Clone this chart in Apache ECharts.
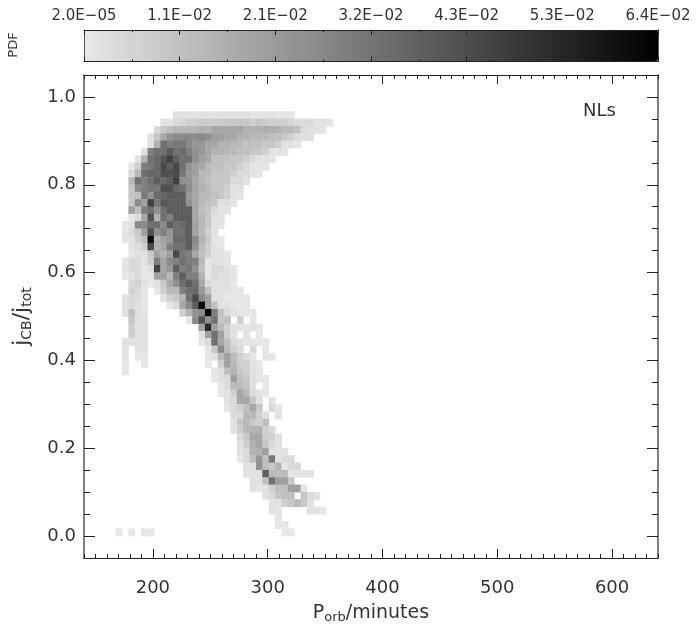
<!DOCTYPE html>
<html>
<head>
    <meta charset="utf-8">
    <title>PDF of jCB/jtot against Porb</title>
    <script src="https://cdn.jsdelivr.net/npm/echarts@6/dist/echarts.min.js"></script>
    <style>
        html, body { margin: 0; padding: 0; background: #fff; }
    </style>
</head>
<body>
    <div id="chart" style="width: 700px;height:629px;"></div>
    <script type="text/javascript">
        // histogram bins: 500 min over 90 columns, 1.1 over 66 rows
        var colCount = 90;
        var rowCount = 66;
        var topDataRow = 60;

        // colour bar
        var pdfMin = 0.00002;
        var pdfMax = 0.064;
        var barLabels = ['2.0E\u221205', '1.1E\u221202', '2.1E\u221202', '3.2E\u221202', '4.3E\u221202', '5.3E\u221202', '6.4E\u221202'];

        // axis ticks
        var xTicks = [200, 300, 400, 500, 600];
        var yTicks = [0, 0.2, 0.4, 0.6, 0.8, 1];

        // first column of each row, top row (0.95-0.967) down to bottom row (0-0.017)
        var rowFirstCol = [
            14, 12, 11, 10, 10, 9, 8, 7, 7, 7,
            7, 7, 7, 7, 7, 6, 6, 6, 7, 7,
            6, 6, 6, 7, 7, 6, 6, 6, 7, 7,
            7, 6, 6, 6, 6, 6, 20, 21, 21, 22,
            22, 23, 23, 23, 24, 24, 24, 24, 25, 25,
            26, 26, 28, 29, 29, 30, 30, 5
        ];
        // PDF in units of 1e-3 per cell, read row by row, 0 means empty
        var rowPdf = [
            [2,2,2,2,2,2,2,2,2,2,2,2,1,1,2,2,1,1,1],
            [2,2,4,5,7,7,8,8,8,8,9,9,9,9,7,9,8,7,7,7,5,4,4,4,2,2,1],
            [4,9,11,13,13,13,13,15,15,18,18,18,18,18,15,15,15,16,16,15,13,13,11,4,2,2,1],
            [2,9,18,24,26,26,26,26,26,24,20,20,18,18,15,15,13,13,13,11,11,9,7,4,2,2],
            [2,15,33,29,31,31,26,22,22,18,18,15,15,13,13,11,11,11,9,9,7,2,2,1],
            [2,29,33,33,38,33,35,29,24,22,18,15,15,13,13,11,11,9,9,7,2,2,1],
            [2,15,33,35,40,46,38,33,33,24,20,18,11,11,11,9,9,7,4,2,2,1],
            [0.5,7,29,31,35,44,38,44,33,24,20,18,13,11,11,9,9,7,4,1,1,1],
            [4,13,33,35,35,42,42,44,31,22,20,13,13,9,9,9,7,4,4,1,0.5],
            [13,33,29,33,38,35,38,46,24,24,18,13,11,9,9,9,4,4,2],
            [9,26,29,31,31,42,42,35,33,25,18,15,13,9,9,7,2,2],
            [9,11,31,24,35,35,38,38,38,22,18,13,13,11,9,7,2,1],
            [9,26,20,46,31,40,38,38,38,24,18,13,11,9,2,2,1],
            [20,11,29,33,24,33,38,38,38,38,18,11,9,4,1,1],
            [0.5,4,18,42,15,33,29,38,38,38,18,13,9,2,2],
            [0.5,2,26,26,33,33,26,38,33,35,38,20,13,9,2,1],
            [0.5,4,9,20,42,24,29,22,33,33,38,18,13,7,2],
            [0.5,2,7,11,60,15,20,22,35,35,38,26,15,9,1,0.5],
            [2,4,7,44,15,18,29,33,33,38,24,13,7,2,1],
            [0.5,2,2,9,20,15,20,44,31,29,18,11,7,2,2,0.5],
            [0.5,4,4,2,7,29,18,26,29,33,29,29,13,0.5,2,2,0.5],
            [0.5,4,4,0.5,2,46,18,22,38,29,31,24,11,0.5,4,4,2,0.5],
            [0.5,2,4,0.5,0.5,20,20,13,29,38,29,29,15,0.5,4,2,2,0.5],
            [4,7,2,0.5,2,9,18,24,33,38,33,18,4,2,2,2,0.5],
            [7,4,0.5,0,0.5,7,13,13,29,33,35,22,11,2,2,2,1,0.5],
            [2,4,4,0.5,0,0,2,7,9,15,33,44,26,20,2,2,0.5,0.5,0.5,0.5],
            [2,4,2,0.5,0,0,0,0.5,4,18,26,38,62,20,11,2,2,0.5,0.5,0.5],
            [2,11,2,0.5,0,0,0,0,0,7,15,24,26,64,29,11,4,2,0.5,0.5,0.5],
            [9,2,2,0,0,0,0,0,0,0.5,26,42,24,33,9,11,0,7,0,0.5],
            [7,2,2,0,0,0,0,0,0,0,0,20,53,20,13,7,2,2,0.5,2,0.5],
            [7,2,2,0,0,0,0,0,0,0,0,2,20,33,20,7,2,0,2,0,0.5],
            [2,2,2,2,0,0,0,0,0,0,0,0,0.5,4,33,18,11,4,2,0.5,0.5,0.5,0.5],
            [0.5,0,2,2,0,0,0,0,0,0,0,0,0,0.5,9,26,13,7,4,0,4,0,0.5],
            [0.5,0,0.5,0.5,0,0,0,0,0,0,0,0,0,0.5,2,13,20,13,7,4,0.5,0,0.5,0.5],
            [0.5,0,0,0.5,0,0,0,0,0,0,0,0,0,0.5,0,7,20,13,7,7,2,0.5],
            [0.5,0,0,0,0,0,0,0,0,0,0,0,0,0,0.5,2,11,15,9,7,2,0.5],
            [0.5,2,4,20,11,9,2,0.5,0.5],
            [0.5,4,13,13,11,2,0,0.5],
            [0.5,2,7,18,13,4,2,0.5],
            [2,4,18,18,9,2,0,2],
            [0.5,4,7,11,18,9,0,4,0.5],
            [4,4,13,13,7,2,0,2],
            [2,9,13,9,7,11],
            [2,7,13,15,15,7,4],
            [4,9,18,18,7,7,2],
            [2,7,15,18,9,4,2],
            [2,4,15,15,20,2,2,2],
            [0.5,4,11,22,11,31,2,4,4],
            [2,2,24,11,9,15,0.5,4,4],
            [2,2,2,38,13,11,13,0.5,2,2,2],
            [2,2,11,33,20,20,9],
            [2,0.5,2,7,11,11,20,20,0.5],
            [2,4,9,11,11,0,9,4,2],
            [2,2,7,9,13,9,2],
            [2,0.5,0,0,0,0,2,2,0.5],
            [0.5],
            [0.5,0.5],
            [0.5,0,0.5,0,0.5,0.5,0,0,0,0,0,0,0,0,0,0,0,0,0,0,0,0,0,0,0,0,0.5,0.5]
        ];

        var cells = [];
        rowPdf.forEach(function (values, i) {
            values.forEach(function (v, j) {
                if (v > 0) {
                    cells.push([rowFirstCol[i] + j, topDataRow - i, v / 1000]);
                }
            });
        });

        var colNames = [];
        for (var c = 0; c < colCount; c++) colNames.push(c);
        var rowNames = [];
        for (var r = 0; r < rowCount; r++) rowNames.push(r);

        var fontName = 'DejaVu Sans';
        var inkColor = '#333';
        var tickColor = '#222';
        var subStyle = { fontFamily: fontName, fontSize: 13, color: inkColor, padding: [9, 0, 0, 0] };
        var nameStyle = { fontFamily: fontName, fontSize: 19, color: inkColor };
        var subStyleY = { fontFamily: fontName, fontSize: 14, color: inkColor, padding: [9, 0, 0, 0] };
        var nameStyleY = { fontFamily: fontName, fontSize: 22, color: inkColor };

        // one tick layer of the frame: a line, ticks pointing inward, no labels unless extra adds them
        function frameAxis(base, tickLength, lineStyle, extra) {
            var axis = {
                type: 'value', z: 3,
                splitLine: { show: false },
                axisLine: lineStyle ? { show: true, onZero: false, lineStyle: lineStyle } : { show: false, onZero: false },
                axisTick: { show: true, inside: true, length: tickLength, lineStyle: { color: tickColor } },
                axisLabel: { show: false }
            };
            return Object.assign(axis, base, extra || {});
        }

        var xBase = { gridIndex: 0, min: 140, max: 640 };
        var yBase = { gridIndex: 0, min: -0.05, max: 1.05 };
        var xLine = { color: '#222', width: 1 };
        var yLine = { color: '#555', width: 1.5 };

        function majorTicks(values, length) {
            return { show: true, inside: true, length: length, customValues: values, lineStyle: { color: tickColor } };
        }

        var chart = echarts.init(document.getElementById('chart'));
        chart.setOption({
            animation: false,
            backgroundColor: '#fff',
            grid: [
                { left: 84, top: 75, width: 574, height: 491 },
                { left: 84, top: 30, width: 574, height: 31.5 }
            ],
            visualMap: {
                type: 'continuous',
                seriesIndex: 0,
                min: pdfMin,
                max: pdfMax,
                orient: 'horizontal',
                left: 84,
                top: 30,
                padding: 0,
                itemWidth: 31.5,
                itemHeight: 574,
                text: null,
                calculable: false,
                hoverLink: false,
                showLabel: false,
                borderRadius: 0,
                z: 1,
                inRange: { color: ['#e8e8e8', '#000000'] },
                textStyle: { fontSize: 0 }
            },
            xAxis: [
                { type: 'category', gridIndex: 0, data: colNames, show: false },
                // bottom and top: a layer of minor ticks every 10, then the majors
                frameAxis(xBase, 4, xLine, { position: 'bottom', interval: 10 }),
                frameAxis(xBase, 9, null, {
                    position: 'bottom', interval: 100,
                    axisTick: majorTicks(xTicks, 9),
                    axisLabel: { customValues: xTicks, margin: 21, fontFamily: fontName, fontSize: 18, color: inkColor },
                    name: '{m|P}{s|orb}{m|/minutes}',
                    nameLocation: 'middle',
                    nameGap: 44,
                    nameTextStyle: { rich: { m: nameStyle, s: subStyle } }
                }),
                frameAxis(xBase, 4, xLine, { position: 'top', interval: 10 }),
                frameAxis(xBase, 9, null, { position: 'top', interval: 100, axisTick: majorTicks(xTicks, 9) }),
                // colour bar frame
                frameAxis({ gridIndex: 1, min: 0, max: 6 }, 5, xLine, {
                    position: 'top', interval: 1,
                    minorTick: { show: true, splitNumber: 2, length: 2, lineStyle: { color: tickColor } },
                    axisLabel: {
                        show: true, margin: 6, fontFamily: fontName, fontSize: 15, color: inkColor, hideOverlap: false,
                        formatter: function (v) { return barLabels[v]; }
                    }
                }),
                frameAxis({ gridIndex: 1, min: 0, max: 6 }, 5, xLine, {
                    position: 'bottom', interval: 1,
                    minorTick: { show: true, splitNumber: 2, length: 2, lineStyle: { color: tickColor } }
                })
            ],
            yAxis: [
                { type: 'category', gridIndex: 0, data: rowNames, show: false },
                frameAxis(yBase, 6, yLine, { position: 'left', interval: 0.05 }),
                frameAxis(yBase, 11, null, {
                    position: 'left', interval: 0.2,
                    axisTick: majorTicks(yTicks, 11),
                    axisLabel: {
                        customValues: yTicks, margin: 8, fontFamily: fontName, fontSize: 18, color: inkColor,
                        formatter: function (v) { return v.toFixed(1); }
                    },
                    name: '{m|j\u0307}{s|CB}{m|/j\u0307}{s|tot}',
                    nameLocation: 'middle',
                    nameRotate: 90,
                    nameGap: 50,
                    nameTextStyle: { rich: { m: nameStyleY, s: subStyleY } }
                }),
                frameAxis(yBase, 6, yLine, { position: 'right', interval: 0.05 }),
                frameAxis(yBase, 11, null, { position: 'right', interval: 0.2, axisTick: majorTicks(yTicks, 11) }),
                frameAxis({ gridIndex: 1, min: 0, max: 1 }, 1, { color: '#555', width: 1 }, { position: 'left', axisTick: { show: false } }),
                frameAxis({ gridIndex: 1, min: 0, max: 1 }, 1, { color: '#555', width: 1 }, { position: 'right', axisTick: { show: false } })
            ],
            graphic: [
                {
                    type: 'text', left: 583, top: 102,
                    style: { text: 'NLs', fontFamily: fontName, fontSize: 18, fill: inkColor }
                },
                {
                    type: 'text', x: 14, y: 45, rotation: Math.PI / 2,
                    style: { text: 'PDF', fontFamily: fontName, fontSize: 13, fill: inkColor, align: 'center', verticalAlign: 'middle' }
                }
            ],
            series: [
                {
                    type: 'heatmap',
                    xAxisIndex: 0,
                    yAxisIndex: 0,
                    data: cells,
                    progressive: 0,
                    emphasis: { disabled: true }
                }
            ]
        });
    </script>
</body>
</html>
